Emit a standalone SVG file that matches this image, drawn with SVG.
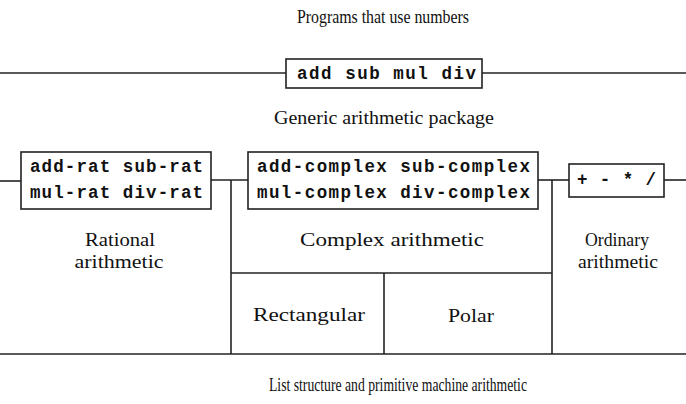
<svg xmlns="http://www.w3.org/2000/svg" width="686" height="404" viewBox="0 0 686 404">
<style>
.ln{stroke:#222;stroke-width:1.6;fill:none}
.bx{stroke:#222;stroke-width:1.6;fill:#fff}
.lbl{font-family:"Liberation Serif","Times New Roman",serif;font-size:19px;fill:#111;text-anchor:middle}
.code{font-family:"Liberation Mono","Courier New",monospace;font-size:17.5px;font-weight:bold;fill:#111}
</style>
<rect width="686" height="404" fill="#fff"/>
<g id="connectors">
<line class="ln" x1="0" y1="73" x2="286" y2="73"/>
<line class="ln" x1="482" y1="73" x2="686" y2="73"/>
<line class="ln" x1="0" y1="181" x2="21" y2="181"/>
<line class="ln" x1="211" y1="180" x2="248" y2="180"/>
<line class="ln" x1="538" y1="180" x2="569" y2="180"/>
<line class="ln" x1="664" y1="180" x2="686" y2="180"/>
<line class="ln" x1="231" y1="180" x2="231" y2="354"/>
<line class="ln" x1="552" y1="180" x2="552" y2="354"/>
<line class="ln" x1="231" y1="273" x2="552" y2="273"/>
<line class="ln" x1="384" y1="273" x2="384" y2="354"/>
<line class="ln" x1="0" y1="354" x2="686" y2="354"/>
</g>
<g id="programs">
<text class="lbl" x="383" y="23" textLength="172" lengthAdjust="spacingAndGlyphs">Programs that use numbers</text>
</g>
<g id="generic-ops">
<rect class="bx" x="286" y="59" width="196" height="29"/>
<text class="code" x="297" y="79" textLength="179" lengthAdjust="spacing">add sub mul div</text>
</g>
<g id="generic-package">
<text class="lbl" x="384" y="124" textLength="220" lengthAdjust="spacingAndGlyphs">Generic arithmetic package</text>
</g>
<g id="rat-ops">
<rect class="bx" x="21" y="152" width="190" height="57"/>
<text class="code" x="30" y="172" textLength="173" lengthAdjust="spacing">add-rat sub-rat</text>
<text class="code" x="30" y="198" textLength="173" lengthAdjust="spacing">mul-rat div-rat</text>
</g>
<g id="complex-ops">
<rect class="bx" x="248" y="152" width="290" height="57"/>
<text class="code" x="257" y="172" textLength="273" lengthAdjust="spacing">add-complex sub-complex</text>
<text class="code" x="257" y="198" textLength="273" lengthAdjust="spacing">mul-complex div-complex</text>
</g>
<g id="ordinary-ops">
<rect class="bx" x="569" y="164" width="95" height="33"/>
<text class="code" x="577" y="185" textLength="79" lengthAdjust="spacing">+ - * /</text>
</g>
<g id="rational">
<text class="lbl" x="120" y="246" textLength="70" lengthAdjust="spacingAndGlyphs">Rational</text>
<text class="lbl" x="119" y="268" textLength="89" lengthAdjust="spacingAndGlyphs">arithmetic</text>
</g>
<g id="complex">
<text class="lbl" x="392" y="246" textLength="184" lengthAdjust="spacingAndGlyphs">Complex arithmetic</text>
</g>
<g id="ordinary">
<text class="lbl" x="617" y="246" textLength="64" lengthAdjust="spacingAndGlyphs">Ordinary</text>
<text class="lbl" x="618" y="268" textLength="80" lengthAdjust="spacingAndGlyphs">arithmetic</text>
</g>
<g id="rectangular">
<text class="lbl" x="309" y="321" textLength="112" lengthAdjust="spacingAndGlyphs">Rectangular</text>
</g>
<g id="polar">
<text class="lbl" x="471" y="322" textLength="46" lengthAdjust="spacingAndGlyphs">Polar</text>
</g>
<g id="list-structure">
<text class="lbl" x="398" y="391" textLength="258" lengthAdjust="spacingAndGlyphs">List structure and primitive machine arithmetic</text>
</g>
</svg>
